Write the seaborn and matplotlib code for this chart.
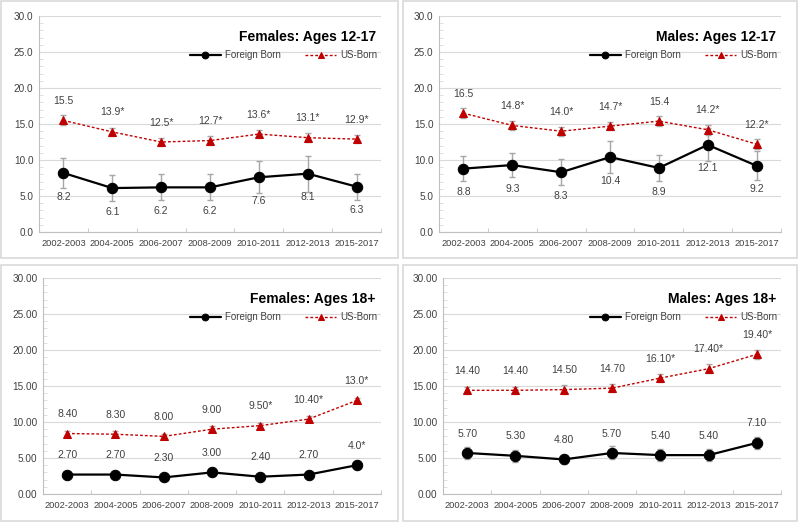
import numpy as np
import pandas as pd
import seaborn as sns
import matplotlib.pyplot as plt
from matplotlib.patches import Rectangle
from matplotlib.ticker import MultipleLocator, FixedLocator, FormatStrFormatter

# data
years = ["2002-2003", "2004-2005", "2006-2007", "2008-2009", "2010-2011", "2012-2013", "2015-2017"]

f1217_fb = [8.2, 6.1, 6.2, 6.2, 7.6, 8.1, 6.3]
f1217_fb_err = [2.1, 1.8, 1.8, 1.8, 2.2, 2.5, 1.8]
f1217_us = [15.5, 13.9, 12.5, 12.7, 13.6, 13.1, 12.9]
f1217_us_err = [0.7, 0.6, 0.6, 0.6, 0.6, 0.6, 0.6]
f1217_fb_lab = ["8.2", "6.1", "6.2", "6.2", "7.6", "8.1", "6.3"]
f1217_us_lab = ["15.5", "13.9*", "12.5*", "12.7*", "13.6*", "13.1*", "12.9*"]

m1217_fb = [8.8, 9.3, 8.3, 10.4, 8.9, 12.1, 9.2]
m1217_fb_err = [1.7, 1.7, 1.8, 2.2, 1.8, 2.3, 2.0]
m1217_us = [16.5, 14.8, 14.0, 14.7, 15.4, 14.2, 12.2]
m1217_us_err = [0.7, 0.6, 0.6, 0.6, 0.7, 0.7, 0.7]
m1217_fb_lab = ["8.8", "9.3", "8.3", "10.4", "8.9", "12.1", "9.2"]
m1217_us_lab = ["16.5", "14.8*", "14.0*", "14.7*", "15.4", "14.2*", "12.2*"]

f18_fb = [2.7, 2.7, 2.3, 3.0, 2.4, 2.7, 4.0]
f18_fb_err = [0.3, 0.3, 0.3, 0.4, 0.3, 0.3, 0.3]
f18_us = [8.4, 8.3, 8.0, 9.0, 9.5, 10.4, 13.0]
f18_us_err = [0.3, 0.4, 0.3, 0.4, 0.4, 0.4, 0.4]
f18_fb_lab = ["2.70", "2.70", "2.30", "3.00", "2.40", "2.70", "4.0*"]
f18_us_lab = ["8.40", "8.30", "8.00", "9.00", "9.50*", "10.40*", "13.0*"]

m18_fb = [5.7, 5.3, 4.8, 5.7, 5.4, 5.4, 7.1]
m18_fb_err = [0.8, 0.8, 0.6, 0.9, 0.8, 0.8, 0.8]
m18_us = [14.4, 14.4, 14.5, 14.7, 16.1, 17.4, 19.4]
m18_us_err = [0.5, 0.5, 0.6, 0.6, 0.5, 0.6, 0.6]
m18_fb_lab = ["5.70", "5.30", "4.80", "5.70", "5.40", "5.40", "7.10"]
m18_us_lab = ["14.40", "14.40", "14.50", "14.70", "16.10*", "17.40*", "19.40*"]

sns.set_style("white")
plt.rcParams['font.family'] = ['Liberation Sans', 'DejaVu Sans']

TXT = "#404040"
RED = "#C00000"
GRAY = "#A6A6A6"

fig = plt.figure(figsize=(8, 5.26), dpi=100)
W, H = 800, 526

# panel borders (pixel boxes)
for (x0, y0, x1, y1) in [(1, 1, 398, 258), (403, 1, 797, 258), (1, 265, 398, 521), (403, 265, 797, 521)]:
    fig.add_artist(Rectangle((x0 / W, 1 - y1 / H), (x1 - x0) / W, (y1 - y0) / H,
                             transform=fig.transFigure, fill=False, ec="#D9D9D9", lw=1.2))

panels = [
    ("Females: Ages 12-17", (39, 16, 381, 232), f1217_fb, f1217_fb_err, f1217_us, f1217_us_err,
     f1217_fb_lab, f1217_us_lab, "%.1f", True),
    ("Males: Ages 12-17", (439, 16, 781, 232), m1217_fb, m1217_fb_err, m1217_us, m1217_us_err,
     m1217_fb_lab, m1217_us_lab, "%.1f", True),
    ("Females: Ages 18+", (43, 278, 381, 494), f18_fb, f18_fb_err, f18_us, f18_us_err,
     f18_fb_lab, f18_us_lab, "%.2f", False),
    ("Males: Ages 18+", (443, 278, 781, 494), m18_fb, m18_fb_err, m18_us, m18_us_err,
     m18_fb_lab, m18_us_lab, "%.2f", False),
]

x = np.arange(len(years))

for title, box, fb, fb_err, us, us_err, fb_lab, us_lab, fmt, fb_below in panels:
    x0, y0, x1, y1 = box
    ax = fig.add_axes([x0 / W, 1 - y1 / H, (x1 - x0) / W, (y1 - y0) / H])

    df = pd.DataFrame({"x": np.concatenate([x, x]),
                       "val": fb + us,
                       "grp": ["Foreign Born"] * 7 + ["US-Born"] * 7})

    ax.errorbar(x, fb, yerr=fb_err, fmt="none", ecolor=GRAY, elinewidth=1, capsize=2.5, capthick=1, zorder=2)
    ax.errorbar(x, us, yerr=us_err, fmt="none", ecolor=GRAY, elinewidth=1, capsize=2.5, capthick=1, zorder=2)

    sns.lineplot(data=df[df.grp == "Foreign Born"], x="x", y="val", ax=ax, color="black",
                 lw=1.6, marker="o", markersize=7.5, markeredgecolor="black", label="Foreign Born", zorder=3)
    sns.lineplot(data=df[df.grp == "US-Born"], x="x", y="val", ax=ax, color=RED,
                 lw=1.0, linestyle=(0, (2, 1.5)), marker="^", markersize=6, markeredgecolor=RED,
                 label="US-Born", zorder=3)

    for i in range(7):
        off = -17 if fb_below else 14
        ax.annotate(fb_lab[i], (x[i], fb[i]), xytext=(0, off), textcoords="offset points",
                    ha="center", va="center", fontsize=7.5, color=TXT)
        ax.annotate(us_lab[i], (x[i], us[i]), xytext=(0, 14), textcoords="offset points",
                    ha="center", va="center", fontsize=7.5, color=TXT)

    ax.set_xlim(-0.5, 6.5)
    ax.set_ylim(0, 30)
    ax.set_xticks(x)
    ax.set_xticklabels(years)
    ax.xaxis.set_minor_locator(FixedLocator(np.arange(-0.5, 7, 1)))
    ax.yaxis.set_major_locator(MultipleLocator(5))
    ax.yaxis.set_minor_locator(MultipleLocator(1))
    ax.yaxis.set_major_formatter(FormatStrFormatter(fmt))
    ax.tick_params(axis="x", which="major", length=0, labelsize=6.7, labelcolor=TXT, pad=5)
    ax.tick_params(axis="x", which="minor", length=3, direction="in", color="#BFBFBF", bottom=True)
    ax.tick_params(axis="y", which="major", length=0, labelsize=7.2, labelcolor=TXT, pad=4)
    ax.tick_params(axis="y", which="minor", length=3, direction="in", color="#D9D9D9", left=True)
    ax.grid(axis="y", color="#D9D9D9", lw=0.8)
    ax.set_axisbelow(True)
    for s in ["top", "right"]:
        ax.spines[s].set_visible(False)
    for s in ["left", "bottom"]:
        ax.spines[s].set_color("#BFBFBF")
        ax.spines[s].set_linewidth(0.8)
    ax.set_xlabel("")
    ax.set_ylabel("")

    ax.text(0.985, 0.905, title, transform=ax.transAxes, ha="right", va="center",
            fontsize=10, fontweight="bold", color="black")
    ax.legend(loc="upper right", bbox_to_anchor=(1.0, 0.86), ncol=2, frameon=False,
              fontsize=7, handlelength=3.2, columnspacing=2.5, handletextpad=0.4,
              markerscale=0.65, labelcolor=TXT, borderaxespad=0)

fig.savefig("out.png", dpi=100)
